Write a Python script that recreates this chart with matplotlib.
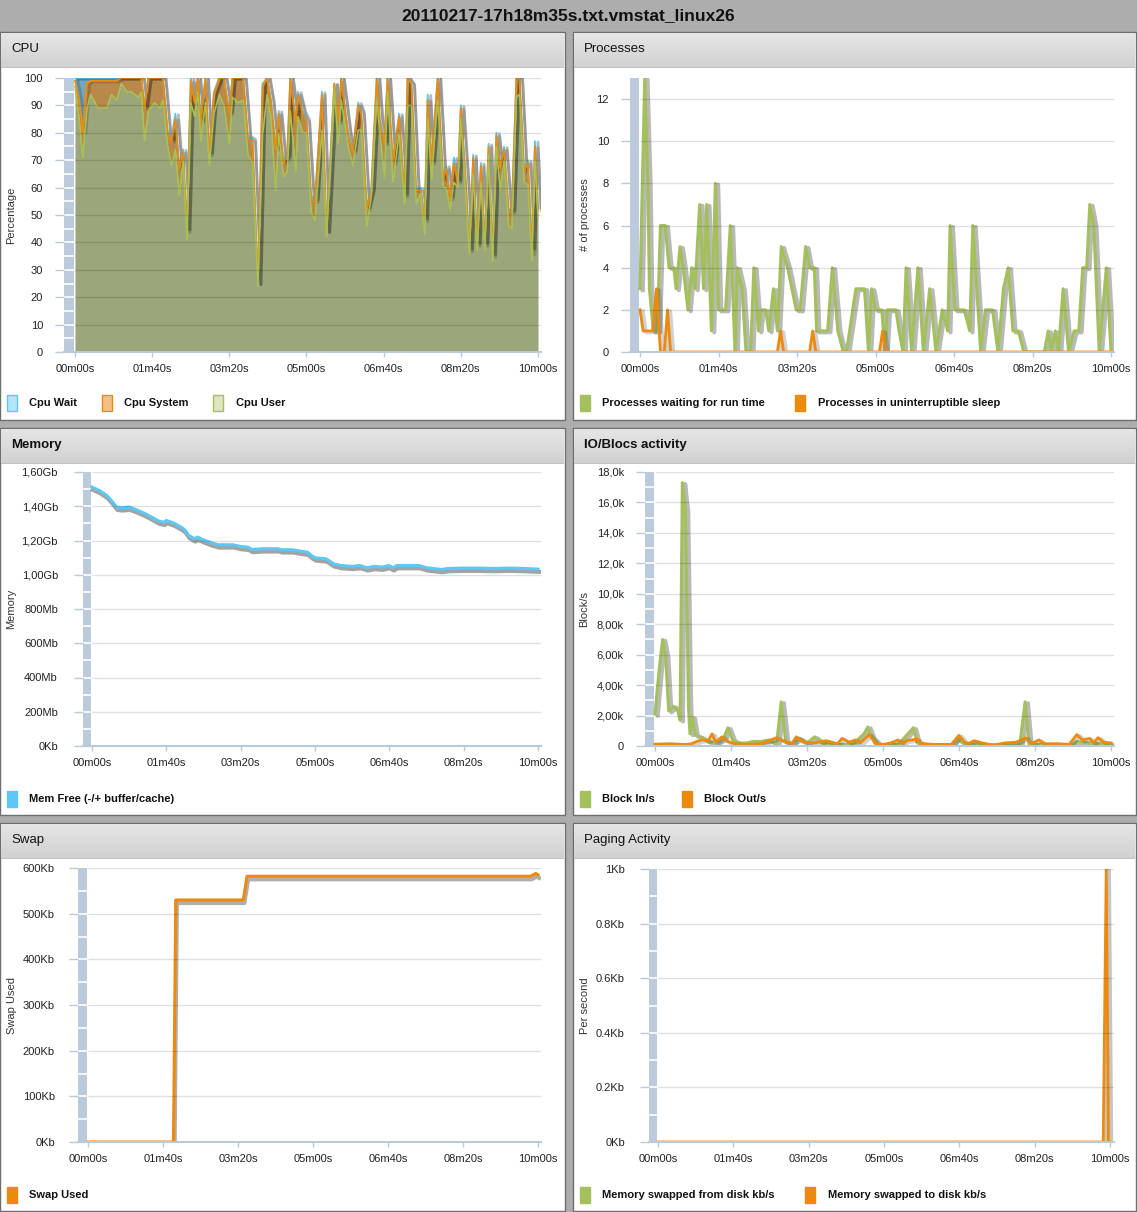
import matplotlib
matplotlib.use('Agg')
import matplotlib.pyplot as plt
import matplotlib.patheffects as pe
from matplotlib.patches import Rectangle
import numpy as np

plt.rcParams['font.family'] = ['Liberation Sans', 'DejaVu Sans']

W, H = 1137, 1212

# ---------------- data ----------------
x_ticks = [0, 100, 200, 300, 400, 500, 600]
x_labels = ['00m00s', '01m40s', '03m20s', '05m00s', '06m40s', '08m20s', '10m00s']

cpu_t = [0, 5, 10, 15, 20, 30, 41, 47, 54, 60, 67, 73, 82, 86, 90, 95, 103, 110, 114, 120,
         125, 130, 135, 140, 145, 150, 155, 159, 163, 169, 174, 180, 187, 193, 200, 204, 211,
         218, 224, 230, 237, 243, 249, 254, 260, 264, 270, 275, 279, 286, 289, 295, 300, 306,
         311, 320, 326, 336, 341, 345, 354, 360, 367, 371, 378, 384, 391, 395, 401, 405, 412,
         420, 427, 431, 436, 442, 448, 453, 457, 462, 470, 477, 481, 486, 491, 496, 500, 507,
         511, 516, 521, 526, 531, 536, 541, 546, 551, 556, 562, 566, 572, 576, 582, 587, 592,
         596, 600]
cpu_user = [97, 86, 71, 88, 94, 89, 89, 94, 92, 98, 95, 95, 93, 95, 77, 88, 91, 89, 92, 75,
            68, 74, 57, 70, 41, 91, 86, 95, 77, 91, 68, 87, 94, 90, 76, 93, 91, 92, 72, 69,
            24, 79, 94, 85, 59, 80, 64, 66, 88, 66, 86, 80, 80, 51, 48, 81, 42, 96, 76, 92,
            75, 68, 81, 81, 46, 57, 92, 80, 64, 95, 62, 80, 54, 90, 90, 54, 58, 43, 85, 63,
            92, 60, 60, 52, 62, 60, 85, 54, 36, 65, 37, 62, 37, 72, 33, 75, 59, 70, 46, 45,
            93, 94, 62, 61, 33, 70, 49]
cpu_sys = [2, 6, 9, 10, 5, 10, 10, 5, 7, 2, 5, 5, 7, 5, 12, 12, 9, 11, 8, 5,
           9, 11, 10, 3, 3, 8, 5, 5, 7, 9, 4, 7, 6, 10, 11, 7, 9, 8, 6, 8,
           1, 18, 6, 6, 15, 7, 5, 5, 12, 18, 8, 7, 4, 5, 7, 13, 2, 2, 8, 8,
           4, 5, 9, 6, 6, 2, 8, 4, 12, 5, 7, 6, 3, 10, 8, 5, 1, 5, 7, 6,
           8, 3, 7, 4, 7, 2, 4, 5, 1, 6, 2, 6, 2, 3, 2, 4, 8, 4, 5, 6,
           7, 6, 4, 8, 3, 5, 3]
cpu_wait = [1, 8, 20, 2, 1, 1, 1, 1, 1, 0, 0, 0, 0, 0, 1, 0, 0, 0, 0, 1,
            1, 2, 1, 1, 1, 1, 1, 0, 1, 0, 1, 1, 0, 0, 1, 0, 0, 0, 1, 1,
            0, 1, 0, 1, 1, 1, 1, 1, 0, 1, 1, 1, 1, 1, 1, 1, 0, 0, 1, 0,
            1, 1, 1, 1, 1, 1, 0, 1, 1, 0, 1, 1, 1, 0, 0, 1, 1, 1, 2, 1,
            0, 1, 1, 1, 2, 1, 1, 1, 1, 1, 1, 1, 1, 1, 1, 1, 1, 1, 1, 1,
            0, 0, 1, 1, 2, 2, 1]

proc_t = [0, 6, 10, 12, 17, 22, 26, 32, 37, 43, 46, 51, 55, 61, 66, 70, 76, 81, 85, 91, 96,
          100, 109, 115, 121, 124, 130, 135, 141, 145, 151, 154, 160, 164, 170, 175, 180, 188,
          199, 204, 211, 216, 222, 225, 239, 245, 252, 259, 263, 275, 286, 291, 295, 300, 308,
          312, 315, 326, 330, 335, 339, 346, 354, 361, 369, 377, 385, 392, 395, 401, 413, 420,
          424, 434, 440, 449, 456, 463, 469, 475, 482, 489, 515, 520, 524, 529, 533, 539, 546,
          553, 559, 564, 569, 573, 578, 585, 594, 600]
proc_run = [3, 13, 8, 3, 1, 1, 6, 6, 4, 4, 3, 5, 4, 2, 4, 3, 7, 3, 7, 1, 8,
            2, 2, 6, 0, 4, 3, 0, 0, 4, 1, 2, 2, 1, 3, 1, 5, 4,
            2, 2, 5, 4, 4, 1, 1, 4, 1, 0, 0, 3, 3, 0, 3, 2, 2,
            0, 2, 2, 1, 0, 4, 0, 4, 0, 3, 0, 2, 1, 6, 2, 2, 1,
            6, 0, 2, 2, 0, 3, 4, 1, 1, 0, 0, 1, 0, 1, 0, 3, 0,
            1, 1, 4, 4, 7, 6, 0, 4, 0]
sleep_t = [0, 4, 16, 21, 26, 31, 35, 39, 175, 179, 183, 216, 220, 224, 305, 309, 313, 600]
proc_sleep = [2, 1, 1, 3, 0, 0, 2, 0, 0, 1, 0, 0, 1, 0, 0, 1, 0, 0]

mem_t = [0, 10, 20, 28, 33, 40, 50, 60, 70, 80, 90, 97, 100, 110, 120, 125, 130, 138, 142, 150,
         160, 170, 180, 190, 200, 210, 215, 230, 250, 255, 270, 280, 290, 295, 300, 315, 325,
         335, 350, 360, 370, 380, 390, 400, 405, 410, 440, 450, 470, 480, 500, 520, 540, 560,
         580, 600]
mem_free = [1512, 1492, 1463, 1424, 1395, 1391, 1395, 1379, 1360, 1337, 1313, 1307, 1317, 1302,
            1278, 1262, 1230, 1210, 1220, 1204, 1187, 1175, 1175, 1175, 1165, 1161, 1148, 1152,
            1152, 1146, 1146, 1138, 1132, 1113, 1099, 1093, 1064, 1054, 1049, 1054, 1041, 1049,
            1045, 1054, 1041, 1054, 1054, 1041, 1031, 1037, 1039, 1039, 1037, 1039, 1037, 1033]

in_t = [0, 5, 10, 14, 18, 25, 30, 33, 36, 40, 44, 46, 49, 53, 60, 70, 80, 90, 96, 102, 110,
        120, 130, 140, 150, 160, 166, 172, 180, 190, 200, 210, 220, 240, 260, 275, 280, 285,
        295, 320, 340, 345, 360, 390, 397, 405, 440, 480, 487, 492, 520, 550, 555, 570, 600]
block_in = [2100, 4800, 7000, 5900, 2300, 2600, 2300, 1700, 17300, 15500, 2600, 800, 1900, 700,
            600, 300, 200, 500, 1200, 400, 200, 200, 300, 300, 400, 100, 2900, 250, 200, 500,
            200, 600, 200, 100, 100, 800, 1250, 600, 100, 100, 1200, 200, 100, 100, 500, 200,
            100, 100, 2900, 100, 100, 100, 300, 200, 100]
out_t = [0, 20, 40, 48, 55, 62, 70, 75, 80, 88, 95, 105, 120, 140, 160, 170, 180, 186, 195, 210,
         225, 240, 246, 255, 264, 270, 282, 290, 300, 310, 320, 325, 330, 345, 350, 370, 390,
         400, 410, 420, 430, 445, 460, 475, 480, 487, 495, 505, 512, 530, 545, 555, 562, 572,
         577, 583, 590, 600]
block_out = [120, 150, 100, 150, 300, 400, 350, 800, 250, 600, 300, 150, 100, 150, 550, 300, 150,
             600, 250, 200, 350, 150, 500, 250, 400, 200, 750, 150, 100, 200, 400, 150, 350, 450,
             150, 100, 100, 700, 100, 350, 200, 50, 200, 250, 350, 550, 150, 400, 150, 150, 100,
             750, 400, 500, 200, 550, 250, 200]

swap_t = [0, 114, 117, 207, 212, 590, 597, 600]
swap_used = [0, 0, 530, 530, 582, 582, 588, 585]

page_t = [0, 591, 595, 598, 600]
page_in = [0, 0, 0, 0, 0]
page_out = [0, 0, 1.0, 0, 0]

# ---------------- helpers ----------------
fig = plt.figure(figsize=(W / 100, H / 100), dpi=100)
fig.patch.set_facecolor('#adadad')

BAR = '#bccbdb'
AX = '#b9cad9'
GREEN = '#a4c05a'
ORANGE = '#ec8a0e'
BLUE = '#5cc8f4'


def box(x0, y0, x1, y1, z=2, **kw):
    fig.patches.append(Rectangle((x0 / W, 1 - y1 / H), (x1 - x0) / W, (y1 - y0) / H,
                                 transform=fig.transFigure, zorder=z, **kw))


def panel(x0, y0, x1, y1, title, bold):
    box(x0, y0, x1, y1, z=-5, facecolor='white', edgecolor='#6e6e6e', lw=1)
    hx = fig.add_axes([(x0 + 1) / W, 1 - (y0 + 35) / H, (x1 - x0 - 2) / W, 34 / H])
    g = np.linspace(0.90, 0.82, 34)[:, None, None] * np.ones((34, 1, 3))
    hx.imshow(g, aspect='auto', extent=(0, 1, 0, 1))
    hx.axis('off')
    box(x0 + 1, y0 + 35, x1 - 1, y0 + 36, facecolor='#c2c2c2', edgecolor='none')
    fig.text((x0 + 11) / W, 1 - (y0 + 17) / H, title, fontsize=9.5,
             fontweight='bold' if bold else 'normal', color='#111', va='center')


def legend(y, items):
    for sx, tx, face, edge, label in items:
        box(sx, y - 8, sx + 10, y + 8, facecolor=face, edgecolor=edge, lw=1)
        fig.text(tx / W, 1 - y / H, label, fontsize=8, fontweight='bold', color='#111', va='center')


def make_axes(L, X0, X1, R, T, B, ymax, yticks, ylabels, minor, lab_right, ylabel, ylabel_x):
    ax = fig.add_axes([L / W, 1 - B / H, (R - L) / W, (B - T) / H])
    s = (X1 - X0) / 600
    xr = 600 + (R - X1) / s
    ax.set_xlim((L - X0) / s, xr)
    ax.set_ylim(0, ymax)
    ax.set_facecolor('none')
    for sp in ['top', 'right', 'left']:
        ax.spines[sp].set_visible(False)
    ax.spines['bottom'].set_color(AX)
    ax.spines['bottom'].set_linewidth(1.5)
    ax.spines['bottom'].set_zorder(6)
    ax.set_xticks(x_ticks, x_labels)
    ax.set_yticks(yticks, ylabels)
    ax.tick_params(axis='y', length=6.5, width=1, color=AX, pad=(L - 9 - lab_right) * 0.72,
                   labelsize=8, labelcolor='#222')
    ax.tick_params(axis='x', length=3.6, width=1, color=AX, pad=5, labelsize=8, labelcolor='#222')
    bw = (X0 - L - 1.5) / (R - L)
    ax.add_patch(Rectangle((0, 0), bw, 1, transform=ax.transAxes, facecolor=BAR,
                           edgecolor='none', zorder=1, clip_on=False))
    if minor is not None:
        ax.hlines(minor, 0, bw, transform=ax.get_yaxis_transform(), colors='white', lw=1.2, zorder=1.5)
    ax.hlines(yticks[1:], 0, xr, colors='k', alpha=0.12, lw=1, zorder=5)
    fig.text(ylabel_x / W, 1 - ((T + B) / 2) / H, ylabel, rotation=90, ha='center', va='center',
             fontsize=8, color='#333')
    return ax


def shadow(lw, dx=2.0, dy=-1.0, alpha=0.3):
    return [pe.SimpleLineShadow(offset=(dx, dy), shadow_color='#1a1a1a', alpha=alpha,
                                linewidth=lw + 0.8), pe.Normal()]


# ---------------- title ----------------
fig.text(0.5, 1 - 16 / H, '20110217-17h18m35s.txt.vmstat_linux26', ha='center', va='center',
         fontsize=12.5, fontweight='bold', color='#111')

# ---------------- panels ----------------
panel(0, 32, 565, 420, 'CPU', False)
panel(573, 32, 1136, 420, 'Processes', False)
panel(0, 428, 565, 815, 'Memory', True)
panel(573, 428, 1136, 815, 'IO/Blocs activity', True)
panel(0, 823, 565, 1211, 'Swap', False)
panel(573, 823, 1136, 1211, 'Paging Activity', False)

# CPU
ax = make_axes(64, 75, 538, 541, 78, 352, 100, list(range(0, 101, 10)),
               [str(v) for v in range(0, 101, 10)], list(range(5, 100, 5)), 43, 'Percentage', 11)
u = np.array(cpu_user, float)
s_top = u + np.array(cpu_sys, float)
w_top = s_top + np.array(cpu_wait, float)
ax.fill_between(cpu_t, 0, u, color='#9ba67b', lw=0, zorder=2)
ax.fill_between(cpu_t, u, s_top, color='#b8894b', lw=0, zorder=2)
ax.fill_between(cpu_t, s_top, w_top, color='#6fa8c6', lw=0, zorder=2)
ax.plot(cpu_t, w_top, color=BLUE, lw=1.3, zorder=3, path_effects=shadow(1.3, 2.2, -0.8, 0.3))
ax.plot(cpu_t, s_top, color=ORANGE, lw=1.3, zorder=3.1, path_effects=shadow(1.3, 2.2, -0.8, 0.2))
ax.plot(cpu_t, u, color='#a9c24e', lw=1.1, zorder=3.2)
legend(403, [(7, 29, '#b3e5fc', BLUE, 'Cpu Wait'),
             (102, 124, '#f4c088', ORANGE, 'Cpu System'),
             (213, 236, '#dde6bc', GREEN, 'Cpu User')])

# Processes
ax = make_axes(630, 640, 1111, 1114, 78, 352, 13, list(range(0, 13, 2)),
               [str(v) for v in range(0, 13, 2)], None, 609, '# of processes', 585)
ax.plot(proc_t, proc_run, color=GREEN, lw=2.2, zorder=3, path_effects=shadow(2.2))
ax.plot(sleep_t, proc_sleep, color=ORANGE, lw=2.0, zorder=3.1, path_effects=shadow(2.0, alpha=0.2))
legend(403, [(580, 602, GREEN, GREEN, 'Processes waiting for run time'),
             (795, 818, ORANGE, ORANGE, 'Processes in uninterruptible sleep')])

# Memory
mem_ticks = list(range(0, 1601, 200))
mem_labels = ['0Kb', '200Mb', '400Mb', '600Mb', '800Mb', '1,00Gb', '1,20Gb', '1,40Gb', '1,60Gb']
ax = make_axes(83, 92, 538, 541, 472, 746, 1600, mem_ticks, mem_labels,
               list(range(100, 1600, 100)), 58, 'Memory', 11)
ax.plot(mem_t, mem_free, color=BLUE, lw=2.2, zorder=3, path_effects=shadow(2.2, 0.6, -2.0, 0.4))
legend(799, [(7, 29, BLUE, BLUE, 'Mem Free (-/+ buffer/cache)')])

# IO
io_ticks = list(range(0, 18001, 2000))
io_labels = ['0', '2,00k', '4,00k', '6,00k', '8,00k', '10,0k', '12,0k', '14,0k', '16,0k', '18,0k']
ax = make_axes(645, 655, 1111, 1114, 472, 746, 18000, io_ticks, io_labels,
               list(range(1000, 18000, 1000)), 624, 'Block/s', 584)
ax.plot(in_t, block_in, color=GREEN, lw=2.2, zorder=3, path_effects=shadow(2.2))
ax.plot(out_t, block_out, color=ORANGE, lw=2.0, zorder=3.1, path_effects=shadow(2.0, alpha=0.2))
legend(799, [(580, 602, GREEN, GREEN, 'Block In/s'),
             (682, 704, ORANGE, ORANGE, 'Block Out/s')])

# Swap
sw_ticks = list(range(0, 601, 100))
sw_labels = ['%dKb' % v for v in sw_ticks]
ax = make_axes(78, 88, 538, 541, 868, 1142, 600, sw_ticks, sw_labels,
               list(range(50, 600, 50)), 55, 'Swap Used', 12)
ax.plot(swap_t, swap_used, color=ORANGE, lw=2.2, zorder=3, path_effects=shadow(2.2, 0.8, -2.2, 0.35))
legend(1195, [(7, 29, ORANGE, ORANGE, 'Swap Used')])

# Paging
pg_ticks = [0, 0.2, 0.4, 0.6, 0.8, 1.0]
pg_labels = ['0Kb', '0.2Kb', '0.4Kb', '0.6Kb', '0.8Kb', '1Kb']
ax = make_axes(649, 658, 1110, 1114, 869, 1142, 1.0, pg_ticks, pg_labels,
               [0.1 * k for k in range(1, 10)], 625, 'Per second', 585)
ax.plot(page_t, page_in, color=GREEN, lw=2.0, zorder=3, path_effects=shadow(2.0))
ax.plot(page_t, page_out, color=ORANGE, lw=2.0, zorder=3.1, path_effects=shadow(2.0, alpha=0.25))
legend(1195, [(580, 602, GREEN, GREEN, 'Memory swapped from disk kb/s'),
              (805, 828, ORANGE, ORANGE, 'Memory swapped to disk kb/s')])

fig.savefig('out.png', dpi=100, facecolor=fig.get_facecolor())
